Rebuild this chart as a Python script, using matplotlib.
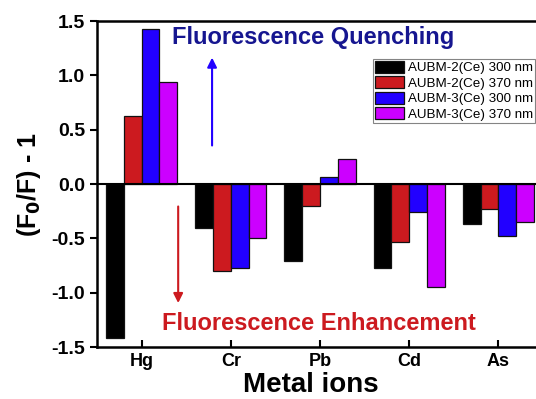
import matplotlib
matplotlib.use("Agg")
import matplotlib.pyplot as plt
import numpy as np

plt.rcParams['font.family'] = ['Liberation Sans', 'DejaVu Sans']

metals = ["Hg", "Cr", "Pb", "Cd", "As"]
series_names = ["AUBM-2(Ce) 300 nm", "AUBM-2(Ce) 370 nm", "AUBM-3(Ce) 300 nm", "AUBM-3(Ce) 370 nm"]
aubm2_300 = [-1.42, -0.40, -0.71, -0.77, -0.37]
aubm2_370 = [0.63, -0.80, -0.20, -0.53, -0.23]
aubm3_300 = [1.43, -0.77, 0.065, -0.26, -0.48]
aubm3_370 = [0.94, -0.50, 0.23, -0.95, -0.35]
colors = ["#000000", "#cc1a1f", "#2200ff", "#cc00ff"]

fig = plt.figure(figsize=(5.36, 3.99), dpi=100)
ax = fig.add_axes([0.181, 0.130, 0.832, 0.817])

x = np.arange(1, len(metals) + 1)
w = 0.2
for i, (vals, c, name) in enumerate(zip([aubm2_300, aubm2_370, aubm3_300, aubm3_370], colors, series_names)):
    ax.bar(x + (i - 1.5) * w, vals, width=w, color=c, edgecolor="#111111", linewidth=0.9, label=name, zorder=2)

ax.axhline(0, color="black", linewidth=1.5, zorder=3)
ax.set_xlim(0.5, 5.5)
ax.set_ylim(-1.5, 1.5)
ax.set_xticks(x)
ax.set_xticklabels(metals)
ax.set_yticks([-1.5, -1.0, -0.5, 0.0, 0.5, 1.0, 1.5])
ax.set_yticklabels(["-1.5", "-1.0", "-0.5", "0.0", "0.5", "1.0", "1.5"])
ax.tick_params(axis='x', direction='in', length=5, width=1.5, labelsize=13, pad=4)
ax.tick_params(axis='y', direction='out', length=5, width=1.5, labelsize=14)
for lab in ax.get_xticklabels() + ax.get_yticklabels():
    lab.set_fontweight('bold')
for s in ax.spines.values():
    s.set_linewidth(1.8)

# x-axis title placed in figure coords so it stays inside the canvas
fig.text(0.579, 0.002, "Metal ions", fontsize=20, fontweight='bold', ha='center', va='bottom')
ax.set_ylabel(r"(F$_\mathbf{0}$/F) - 1", fontsize=18, fontweight='bold', labelpad=6)

ax.text(1.34, 1.35, "Fluorescence Quenching", color="#161690", fontsize=17, fontweight='bold', va='center', ha='left')
ax.text(1.23, -1.28, "Fluorescence Enhancement", color="#cc1a1f", fontsize=17, fontweight='bold', va='center', ha='left')
ax.annotate("", xy=(1.79, 1.19), xytext=(1.79, 0.33),
            arrowprops=dict(arrowstyle="-|>", color="#2200ff", lw=1.5, mutation_scale=14))
ax.annotate("", xy=(1.41, -1.12), xytext=(1.41, -0.18),
            arrowprops=dict(arrowstyle="-|>", color="#cc1a1f", lw=1.5, mutation_scale=14))

leg = ax.legend(loc='upper left', bbox_to_anchor=(0.618, 0.885), fontsize=9.6, frameon=True,
                fancybox=False, edgecolor="#666666", handlelength=2.2, handleheight=1.0,
                labelspacing=0.15, borderpad=0.15, handletextpad=0.3, borderaxespad=0)
leg.get_frame().set_linewidth(0.8)

fig.savefig("out.png", dpi=100)
